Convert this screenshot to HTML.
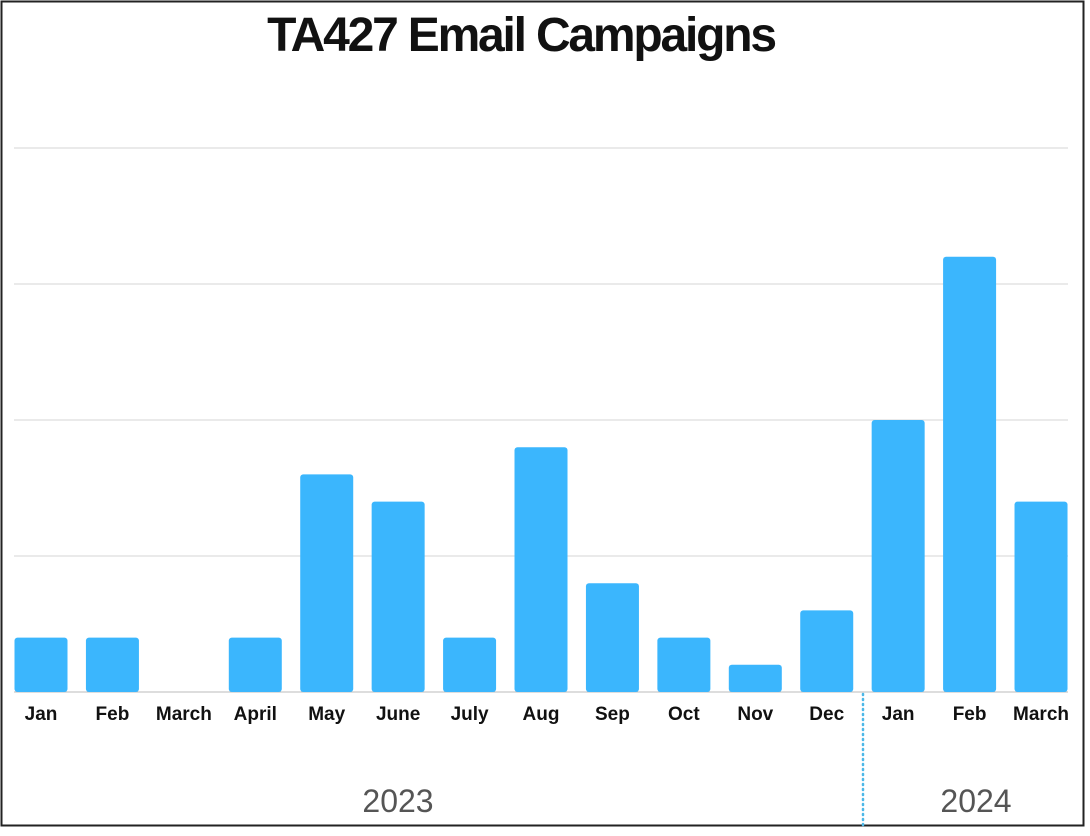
<!DOCTYPE html>
<html><head><meta charset="utf-8"><style>
html,body{margin:0;padding:0;background:#fff;}
body{width:1090px;height:831px;overflow:hidden;}
svg text{font-family:"Liberation Sans",sans-serif;}
</style></head><body>
<svg id="chart" width="1090" height="831">
<rect x="1.5" y="1.5" width="1082" height="824" fill="#fff" stroke="#222" stroke-width="2"/>
<text x="521" y="51" text-anchor="middle" font-size="48" font-weight="bold" letter-spacing="-2.2" fill="#111">TA427 Email Campaigns</text>
<g id="grid"></g>
<g id="bars"></g>
<g id="labels"></g>
<line x1="863" y1="694" x2="863" y2="825" stroke="#4db8e8" stroke-width="2.5" stroke-dasharray="1,4" stroke-linecap="round"/>
<text x="398" y="812" text-anchor="middle" font-size="32" fill="#555">2023</text>
<text x="976" y="812" text-anchor="middle" font-size="32" fill="#555">2024</text>
</svg>
<script>
const categories = ["Jan","Feb","March","April","May","June","July","Aug","Sep","Oct","Nov","Dec","Jan","Feb","March"];
const values = [2,2,0,2,8,7,2,9,4,2,1,3,10,16,7];
const gridTicks = [0,5,10,15,20];
const NS = "http://www.w3.org/2000/svg";
const baseY = 692, unit = 27.2, x0 = 41, step = 71.43, bw = 53;
function y(v){ return baseY - v*unit; }
function xc(i){ return x0 + i*step; }
const g = document.getElementById('grid');
gridTicks.forEach(t=>{
  const l = document.createElementNS(NS,'line');
  l.setAttribute('x1',14); l.setAttribute('x2',1068);
  l.setAttribute('y1',y(t)); l.setAttribute('y2',y(t));
  l.setAttribute('stroke', t===0 ? '#bbb' : '#d6d6d6'); l.setAttribute('stroke-width',1);
  
  
  g.appendChild(l);
});
const b = document.getElementById('bars'), lb = document.getElementById('labels');
values.forEach((v,i)=>{
  if(v>0){
    const r = document.createElementNS(NS,'rect');
    r.setAttribute('x', xc(i)-bw/2); r.setAttribute('y', y(v));
    r.setAttribute('width', bw); r.setAttribute('height', baseY-y(v));
    r.setAttribute('rx', 3); r.setAttribute('fill', '#3bb6fd');
    
    
    b.appendChild(r);
  }
  const t = document.createElementNS(NS,'text');
  t.setAttribute('x', xc(i)); t.setAttribute('y', 720);
  t.setAttribute('text-anchor','middle'); t.setAttribute('font-size', 19);
  t.setAttribute('font-weight','bold'); t.setAttribute('fill','#111');
  t.textContent = categories[i];
  
  
  lb.appendChild(t);
});
</script>
</body></html>
